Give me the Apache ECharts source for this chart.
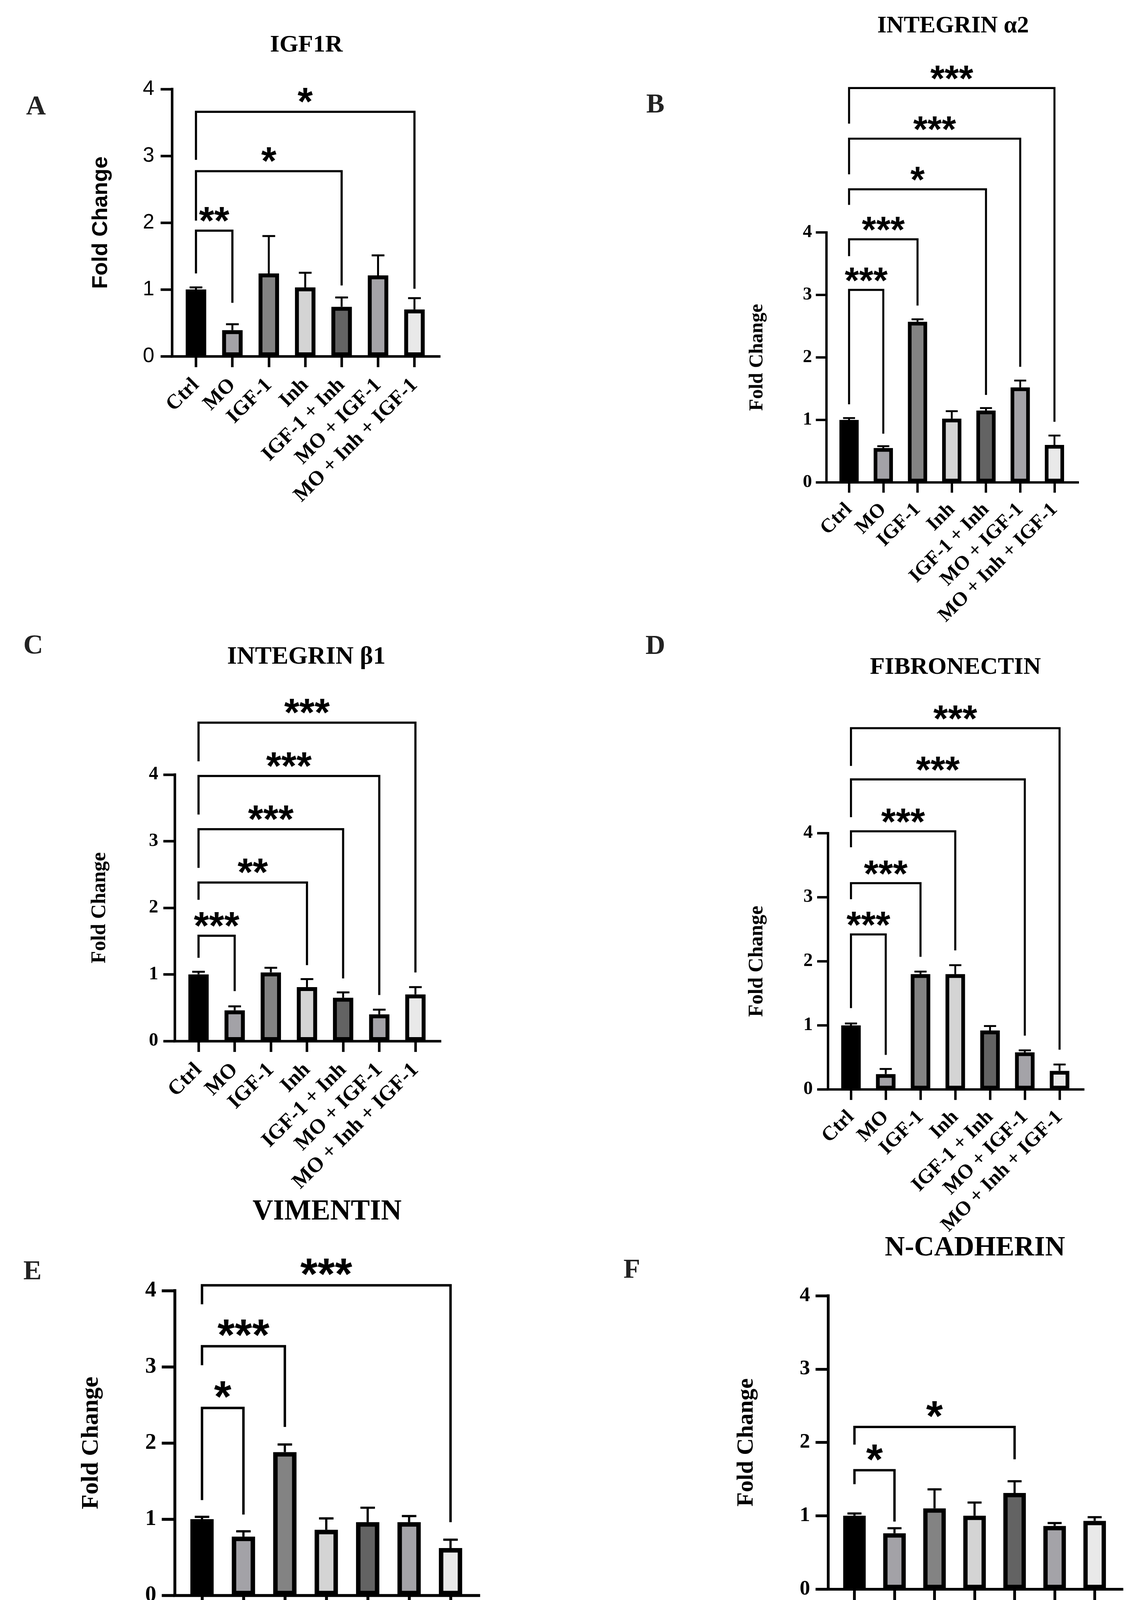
<!DOCTYPE html>
<html>
<head>
<meta charset="utf-8">
<script src="https://cdn.jsdelivr.net/npm/echarts@6/dist/echarts.min.js"></script>
<style>
html,body{margin:0;padding:0;background:#ffffff;overflow:hidden;}
#chart{width:2902px;height:4539px;}
</style>
</head>
<body>
<div id="chart"></div>
<script>
// ---------------- DATA ----------------
const categories = ['Ctrl', 'MO', 'IGF-1', 'Inh', 'IGF-1 + Inh', 'MO + IGF-1', 'MO + Inh + IGF-1'];
const categoryIndex = [0, 1, 2, 3, 4, 5, 6];
const yTickValues = [0, 1, 2, 3, 4];
const yAxisTitle = 'Fold Change';

// A: IGF1R
const igf1rMean = [1.00, 0.39, 1.24, 1.03, 0.74, 1.21, 0.70];
const igf1rErr  = [0.03, 0.09, 0.56, 0.22, 0.14, 0.30, 0.17];
// [from, to, label, bracket top, left leg end, right leg end]
const igf1rSig  = [[0, 1, '**', 1.88, 1.24, 0.80], [0, 4, '*', 2.77, 2.03, 1.06], [0, 6, '*', 3.66, 2.94, 1.01]];

// B: INTEGRIN α2
const alpha2Mean = [1.00, 0.55, 2.57, 1.02, 1.15, 1.52, 0.60];
const alpha2Err  = [0.03, 0.03, 0.04, 0.12, 0.04, 0.11, 0.15];
const alpha2Sig  = [[0, 1, '***', 3.08, 1.25, 0.78], [0, 2, '***', 3.89, 3.62, 2.83], [0, 4, '*', 4.69, 4.44, 1.40], [0, 5, '***', 5.50, 4.93, 1.85], [0, 6, '***', 6.31, 5.74, 0.97]];

// C: INTEGRIN β1
const beta1Mean = [1.00, 0.46, 1.03, 0.81, 0.65, 0.40, 0.70];
const beta1Err  = [0.04, 0.06, 0.07, 0.12, 0.08, 0.07, 0.11];
const beta1Sig  = [[0, 1, '***', 1.58, 1.25, 0.75], [0, 3, '**', 2.38, 2.12, 1.14], [0, 4, '***', 3.18, 2.60, 0.94], [0, 5, '***', 3.98, 3.40, 0.69], [0, 6, '***', 4.78, 4.20, 1.03]];

// D: FIBRONECTIN
const fibMean = [1.00, 0.24, 1.80, 1.80, 0.92, 0.58, 0.29];
const fibErr  = [0.03, 0.08, 0.04, 0.14, 0.07, 0.03, 0.10];
const fibSig  = [[0, 1, '***', 2.42, 1.27, 0.54], [0, 2, '***', 3.22, 2.97, 2.07], [0, 3, '***', 4.03, 3.78, 2.17], [0, 5, '***', 4.84, 4.25, 0.84], [0, 6, '***', 5.64, 5.05, 0.62]];

// E: VIMENTIN
const vimMean = [1.00, 0.77, 1.88, 0.86, 0.96, 0.96, 0.62];
const vimErr  = [0.03, 0.07, 0.10, 0.15, 0.19, 0.08, 0.11];
const vimSig  = [[0, 1, '*', 2.46, 1.25, 1.06], [0, 2, '***', 3.27, 3.02, 2.21], [0, 6, '***', 4.07, 3.82, 0.96]];

// F: N-CADHERIN
const ncadMean = [1.00, 0.76, 1.10, 1.00, 1.31, 0.86, 0.93];
const ncadErr  = [0.03, 0.07, 0.26, 0.18, 0.16, 0.04, 0.05];
const ncadSig  = [[0, 1, '*', 1.62, 1.43, 0.92], [0, 4, '*', 2.21, 1.97, 1.77]];

// ---------------- STYLE / LAYOUT ----------------
const barColors = ['#000000', '#a3a2a7', '#838383', '#d4d4d4', '#636363', '#a4a3a8', '#e9e9e9'];
const SERIF = '"Liberation Serif", "Times New Roman", serif';
const SANS = '"Liberation Sans", Arial, sans-serif';
const X_MIN = -0.66, X_MAX = 6.68;

const panels = [
  { letter: 'A', title: 'IGF1R', mean: igf1rMean, err: igf1rErr, sig: igf1rSig,
    box: [440, 228, 1124, 912], titleAt: [784, 116], titleSize: 62, letterAt: [92, 275],
    tickFont: SANS, tickWeight: 'normal', tickSize: 53, nameFont: SANS, nameSize: 56, nameGap: 153,
    tickMargin: 45, catSize: 53, catMargin: 66, s: 1.0 },
  { letter: 'B', title: 'INTEGRIN α2', mean: alpha2Mean, err: alpha2Err, sig: alpha2Sig,
    box: [2115, 595, 2758, 1235], titleAt: [2439, 67], titleSize: 61, letterAt: [1677, 270],
    tickFont: SERIF, tickWeight: 'bold', tickSize: 47, nameFont: SERIF, nameSize: 50, nameGap: 152,
    tickMargin: 37, catSize: 51, catMargin: 62, s: 0.94 },
  { letter: 'C', title: 'INTEGRIN β1', mean: beta1Mean, err: beta1Err, sig: beta1Sig,
    box: [447, 1983, 1126, 2665], titleAt: [784, 1682], titleSize: 64, letterAt: [85, 1655],
    tickFont: SERIF, tickWeight: 'bold', tickSize: 48, nameFont: SERIF, nameSize: 52, nameGap: 165,
    tickMargin: 42, catSize: 54, catMargin: 66, s: 1.0 },
  { letter: 'D', title: 'FIBRONECTIN', mean: fibMean, err: fibErr, sig: fibSig,
    box: [2119, 2133, 2772, 2789], titleAt: [2445, 1709], titleSize: 62, letterAt: [1677, 1656],
    tickFont: SERIF, tickWeight: 'bold', tickSize: 48, nameFont: SERIF, nameSize: 52, nameGap: 155,
    tickMargin: 39, catSize: 52, catMargin: 63, s: 0.96 },
  { letter: 'E', title: 'VIMENTIN', mean: vimMean, err: vimErr, sig: vimSig,
    box: [447, 3304, 1225, 4084], titleAt: [837, 3103], titleSize: 73, letterAt: [83, 3257],
    tickFont: SERIF, tickWeight: 'bold', tickSize: 57, nameFont: SERIF, nameSize: 62, nameGap: 182,
    tickMargin: 47, catSize: 62, catMargin: 76, s: 1.14 },
  { letter: 'F', title: 'N-CADHERIN', mean: ncadMean, err: ncadErr, sig: ncadSig,
    box: [2119, 3317, 2871, 4068], titleAt: [2495, 3196], titleSize: 71, letterAt: [1617, 3253],
    tickFont: SERIF, tickWeight: 'bold', tickSize: 53, nameFont: SERIF, nameSize: 60, nameGap: 179,
    tickMargin: 46, catSize: 61, catMargin: 74, s: 1.10 }
];

// ---------------- BUILD OPTION ----------------
const grid = [], xAxis = [], yAxis = [], series = [], graphic = [];

panels.forEach((p, i) => {
  const [l, t, r, b] = p.box;
  const w = r - l, h = b - t;
  const band = w / (X_MAX - X_MIN);
  const unitPx = h / 4;
  const s = p.s;
  const axisW = 6.5 * s;
  const borderW = 10 * s;
  const errW = 5 * s;
  const bracketW = 5.5 * s;
  const capHalf = 0.175 * band;
  const starSize = 100 * s;

  grid.push({ left: l, top: t, width: w, height: h, containLabel: false });

  xAxis.push({
    type: 'value', gridIndex: i, min: X_MIN, max: X_MAX,
    axisLine: { show: true, onZero: false, lineStyle: { color: '#000', width: axisW, cap: 'square' } },
    axisTick: { show: true, customValues: categoryIndex, length: 28 * s, lineStyle: { color: '#000', width: axisW } },
    axisLabel: {
      show: true, customValues: categoryIndex, rotate: 45, margin: p.catMargin,
      formatter: (v) => categories[Math.round(v)],
      fontFamily: SERIF, fontWeight: 'bold', fontSize: p.catSize, color: '#000'
    },
    splitLine: { show: false }
  });

  yAxis.push({
    type: 'value', gridIndex: i, min: 0, max: 4, interval: 1,
    name: yAxisTitle, nameLocation: 'middle', nameGap: p.nameGap,
    nameTextStyle: { fontFamily: p.nameFont, fontWeight: 'bold', fontSize: p.nameSize, color: '#000' },
    axisLine: { show: true, onZero: false, lineStyle: { color: '#000', width: axisW, cap: 'square' } },
    axisTick: { show: true, length: 29 * s, lineStyle: { color: '#000', width: axisW } },
    axisLabel: {
      show: true, margin: p.tickMargin, customValues: yTickValues,
      fontFamily: p.tickFont, fontWeight: p.tickWeight, fontSize: p.tickSize, color: '#000'
    },
    splitLine: { show: false }
  });

  // error bars (upper only), drawn under bars
  series.push({
    type: 'custom', xAxisIndex: i, yAxisIndex: i, z: 1, silent: true,
    data: categoryIndex.map((c) => [c, p.mean[c], p.mean[c] + p.err[c]]),
    renderItem: (params, api) => {
      const x = api.value(0);
      const p0 = api.coord([x, api.value(1)]);
      const p1 = api.coord([x, api.value(2)]);
      return {
        type: 'group', children: [
          { type: 'line', shape: { x1: p0[0], y1: p0[1], x2: p1[0], y2: p1[1] }, style: { stroke: '#000', lineWidth: errW } },
          { type: 'line', shape: { x1: p1[0] - capHalf, y1: p1[1], x2: p1[0] + capHalf, y2: p1[1] }, style: { stroke: '#000', lineWidth: errW } }
        ]
      };
    }
  });

  // bars
  series.push({
    type: 'bar', xAxisIndex: i, yAxisIndex: i, z: 2, silent: true,
    barWidth: 0.67 * band - borderW,
    data: categoryIndex.map((c) => [c, p.mean[c]]),
    itemStyle: { color: (prm) => barColors[prm.dataIndex], borderColor: '#000', borderWidth: borderW }
  });

  // significance brackets
  series.push({
    type: 'custom', xAxisIndex: i, yAxisIndex: i, z: 3, silent: true, clip: false,
    data: p.sig.map((sg) => [sg[0], sg[3], sg[1], sg[4], sg[5]]),
    renderItem: (params, api) => {
      const from = api.value(0), top = api.value(1), to = api.value(2);
      const lEnd = api.value(3), rEnd = api.value(4);
      const a = api.coord([from, lEnd]);
      const bb = api.coord([from, top]);
      const c = api.coord([to, top]);
      const d = api.coord([to, rEnd]);
      const label = p.sig[params.dataIndex][2];
      return {
        type: 'group', children: [
          { type: 'polyline', shape: { points: [a, bb, c, d] },
            style: { stroke: '#000', lineWidth: bracketW, fill: null, lineJoin: 'miter', lineCap: 'butt' } },
          { type: 'text', x: (bb[0] + c[0]) / 2, y: bb[1] - 0.26 * unitPx + 0.25 * starSize,
            style: { text: label, textAlign: 'center', textVerticalAlign: 'middle',
                     font: 'bold ' + starSize + 'px ' + SANS, fill: '#000' } }
        ]
      };
    }
  });

  graphic.push({
    type: 'text', x: p.titleAt[0], y: p.titleAt[1],
    style: { text: p.title, textAlign: 'center', textVerticalAlign: 'middle',
             font: 'bold ' + p.titleSize + 'px ' + SERIF, fill: '#000' }
  });
  graphic.push({
    type: 'text', x: p.letterAt[0], y: p.letterAt[1],
    style: { text: p.letter, textAlign: 'center', textVerticalAlign: 'middle',
             font: 'bold 70px ' + SERIF, fill: '#222' }
  });
});

const chart = echarts.init(document.getElementById('chart'), null, { renderer: 'canvas' });
chart.setOption({
  animation: false,
  backgroundColor: '#ffffff',
  grid, xAxis, yAxis, series, graphic
});
</script>
</body>
</html>
